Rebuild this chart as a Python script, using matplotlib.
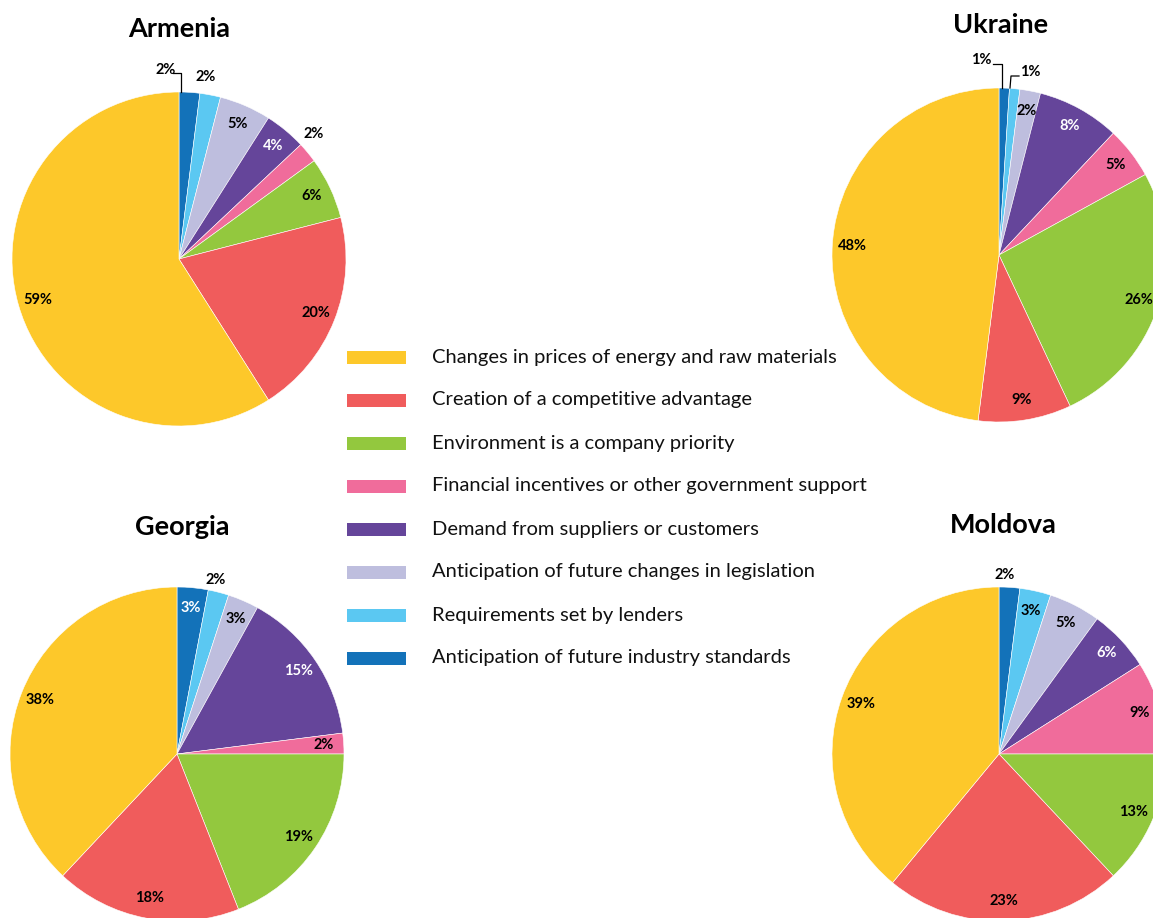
import matplotlib
matplotlib.use("Agg")
import matplotlib.pyplot as plt
from matplotlib.patches import Rectangle
import numpy as np

plt.rcParams['font.family'] = ['Lato', 'DejaVu Sans']

# ---------------- data ----------------
categories = [
    "Changes in prices of energy and raw materials",
    "Creation of a competitive advantage",
    "Environment is a company priority",
    "Financial incentives or other government support",
    "Demand from suppliers or customers",
    "Anticipation of future changes in legislation",
    "Requirements set by lenders",
    "Anticipation of future industry standards",
]
countries = ["Armenia", "Ukraine", "Georgia", "Moldova"]
armenia = [59, 20, 6, 2, 4, 5, 2, 2]
ukraine = [48, 9, 26, 5, 8, 2, 1, 1]
georgia = [38, 18, 19, 2, 15, 3, 2, 3]
moldova = [39, 23, 13, 9, 6, 5, 3, 2]
values = {"Armenia": armenia, "Ukraine": ukraine, "Georgia": georgia, "Moldova": moldova}

# ---------------- style ----------------
colors = ["#FDC82A", "#F05C5C", "#93C83E", "#F06C9B",
          "#65459A", "#BEBEDE", "#5BC8F2", "#1372B9"]
white_text = {4, 7}
W, H = 1153, 918
R = 167
centers = {"Armenia": (179, 259), "Ukraine": (999, 255),
           "Georgia": (177, 754), "Moldova": (999, 754)}
title_pos = {"Armenia": (179, 29), "Ukraine": (1001, 25),
             "Georgia": (182, 527), "Moldova": (1003, 525)}
# outside labels: (category index) -> text offset (px, y down), optional leader
outside = {
    "Armenia": {7: ((-13, -189), [(2, -167), (2, -186), (-6, -186)]),
                6: ((27, -182), None),
                3: ((135, -125), None)},
    "Ukraine": {7: ((-18, -195), [(3, -167), (3, -191), (-6, -191)]),
                6: ((31, -183), [(11, -167), (12, -179), (20, -179)])},
    "Georgia": {6: ((39, -174), None)},
    "Moldova": {7: ((6, -179), None)},
}
label_r = 0.88
label_fs = 10.5

fig = plt.figure(figsize=(W / 100, H / 100), dpi=100)
ax = fig.add_axes([0, 0, 1, 1])

def to_y(py):
    return H - py

for c in countries:
    cx, cy = centers[c]
    vals = values[c][::-1]
    cols = colors[::-1]
    wedges, _ = ax.pie(vals, colors=cols, startangle=90, counterclock=False,
                       radius=R, center=(cx, to_y(cy)),
                       wedgeprops=dict(edgecolor="white", linewidth=0.4))
    n = len(vals)
    for k, w in enumerate(wedges):
        idx = n - 1 - k  # legend/category index
        label = f"{values[c][idx]}%"
        if idx in outside.get(c, {}):
            (dx, dy), leader = outside[c][idx]
            ax.text(cx + dx, to_y(cy + dy), label, ha="center", va="center",
                    fontsize=label_fs, fontweight="bold", color="black")
            if leader:
                xs = [cx + p[0] for p in leader]
                ys = [to_y(cy + p[1]) for p in leader]
                ax.plot(xs, ys, color="black", lw=0.9)
        else:
            mid = np.deg2rad((w.theta1 + w.theta2) / 2)
            x = cx + label_r * R * np.cos(mid)
            y = to_y(cy) + label_r * R * np.sin(mid)
            ax.text(x, y, label, ha="center", va="center", fontsize=label_fs,
                    fontweight="bold",
                    color="white" if idx in white_text else "black")
    tx, ty = title_pos[c]
    ax.text(tx, to_y(ty), c, ha="center", va="center", fontsize=19.5,
            fontweight="bold", color="black")

# legend
for i, (cat, col) in enumerate(zip(categories, colors)):
    yc = 357 + i * 43
    ax.add_patch(Rectangle((347, to_y(yc) - 6.5), 59, 13, facecolor=col,
                           edgecolor="none"))
    ax.text(432, to_y(yc), cat, ha="left", va="center", fontsize=14.5,
            color="#111111")

ax.set_xlim(0, W)
ax.set_ylim(0, H)
ax.set_aspect("equal")
ax.axis("off")
fig.savefig("out.png", dpi=100, facecolor="white")
